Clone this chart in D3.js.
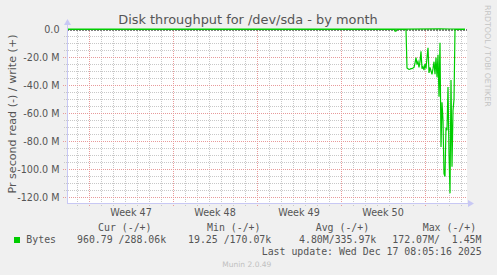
<!DOCTYPE html>
<html>
<head>
<meta charset="utf-8">
<script src="https://cdn.jsdelivr.net/npm/d3@7"></script>
<style>
  html, body { margin: 0; padding: 0; background: #f0f0f0; }
  svg { display: block; }
</style>
</head>
<body>
<svg id="chart" width="497" height="275"></svg>
<script>
// ---- data (hours relative to Mon Dec 15 2025 00:00 UTC, values in MB/s) ----
const readHours = [-716, -62, -60, -58, -56, -38,
  -36, -34, -32, -30, -28, -26, -24, -22, -20, -18, -16, -14, -12, -10, -8, -6, -4, -2,
  0, 2, 4, 6, 8, 10, 12, 14, 16, 18, 20, 22, 24, 26, 28, 30, 32, 34, 36, 38, 40, 42,
  44, 46, 48, 50, 52, 54, 56, 58, 60, 80];
const readValues = [-0.01, -0.01, -1.2, -1.2, -0.01, -0.01,
  -27.5, -28, -28.5, -28.3, -28, -28, -27.5, -27, -24, -20, -25, -23, -27, -23, -15.5, -28, -26.5, -29,
  -24.5, -28, -20, -13, -31, -27, -29.5, -32, -28, -23, -32, -20, -34, -18, -48, -9.5, -84, -52, -65, -103, -105, -70,
  -72, -41, -88, -117, -36, -98, -58, -50, -0.01, -0.01];
const writeHours = [-716, -300, -36, 30, 50, 80];
const writeValues = [0.29, 0.3, 0.33, 0.4, 0.35, 0.29];

const yTicks = [0, -20, -40, -60, -80, -100, -120];
const yTickLabels = ["0.0", "-20.0 M", "-40.0 M", "-60.0 M", "-80.0 M", "-100.0 M", "-120.0 M"];
const weekLabels = ["Week 47", "Week 48", "Week 49", "Week 50"];

const legendHeaders = ["Cur (-/+)", "Min (-/+)", "Avg (-/+)", "Max (-/+)"];
const legendValues = ["960.79 /288.06k", "19.25 /170.07k", "4.80M/335.97k", "172.07M/  1.45M"];

const title = "Disk throughput for /dev/sda - by month";
const yLabel = "Pr second read (-) / write (+)";
const seriesName = "Bytes";
const lastUpdate = "Last update: Wed Dec 17 08:05:16 2025";
const watermark = "RRDTOOL / TOBI OETIKER";
const version = "Munin 2.0.49";

// ---- layout ----
const svg = d3.select("#chart");
const base = Date.UTC(2025, 11, 15, 0, 0, 0);
const H = 3600 * 1000;
const pLeft = 67, pRight = 467, pTop = 29.5, pBottom = 203.5;

const x = d3.scaleUtc()
  .domain([new Date(base - 716 * H), new Date(base + 84 * H)])
  .range([pLeft, pRight]);
const y = d3.scaleLinear()
  .domain([-124.2857, 0])
  .range([pBottom, pTop]);

const green = "#00cc00";
const textCol = "#555";

// plot background
svg.append("rect").attr("x", pLeft).attr("y", 29).attr("width", pRight - pLeft).attr("height", pBottom - 29)
  .attr("fill", "#ffffff");

// minor grid
const g = svg.append("g");
const days = d3.utcDay.range(x.domain()[0], x.domain()[1]);
days.forEach(d => {
  const xx = Math.round(x(d)) + 0.5;
  if (xx <= pLeft || xx >= pRight) return;
  g.append("line").attr("x1", xx).attr("x2", xx).attr("y1", 29).attr("y2", 206)
    .attr("stroke", "#c8c8c8").attr("stroke-dasharray", "1,1");
});
d3.range(0, -125, -5).forEach(v => {
  const yy = Math.round(y(v) - 0.5) + 0.5;
  if (v % 20 === 0) return;
  g.append("line").attr("x1", 64).attr("x2", pRight).attr("y1", yy).attr("y2", yy)
    .attr("stroke", "#c8c8c8").attr("stroke-dasharray", "1,1");
});
// major grid
const mondays = d3.utcMonday.range(x.domain()[0], x.domain()[1]);
mondays.forEach(d => {
  const xx = Math.round(x(d)) + 0.5;
  g.append("line").attr("x1", xx).attr("x2", xx).attr("y1", 29).attr("y2", 207)
    .attr("stroke", "#e89a9a").attr("stroke-dasharray", "1,1");
});
yTicks.forEach(v => {
  if (v === 0) return;
  const yy = Math.round(y(v) - 0.5) + 0.5;
  g.append("line").attr("x1", 63).attr("x2", pRight).attr("y1", yy).attr("y2", yy)
    .attr("stroke", "#e89a9a").attr("stroke-dasharray", "1,1");
});

// y tick labels
yTicks.forEach((v, i) => {
  svg.append("text").attr("x", 59.5).attr("y", y(v) + 3.4)
    .attr("text-anchor", "end").attr("font-family", "DejaVu Sans").attr("font-size", "9.6px")
    .attr("fill", textCol).text(yTickLabels[i]);
});
// week labels
mondays.forEach((d, i) => {
  const mid = new Date(+d + 3.5 * 24 * H);
  if (i >= weekLabels.length) return;
  svg.append("text").attr("x", x(mid)).attr("y", 215.8)
    .attr("text-anchor", "middle").attr("font-family", "DejaVu Sans").attr("font-size", "9.6px")
    .attr("fill", textCol).text(weekLabels[i]);
});

// zero rule
svg.append("line").attr("x1", pLeft).attr("x2", pRight).attr("y1", 30).attr("y2", 30)
  .attr("stroke", "#000").attr("stroke-dasharray", "2,1");

// series
const line = d3.line().x(d => x(d[0])).y(d => y(d[1]));
const readData = readHours.map((h, i) => [new Date(base + h * H), readValues[i]]);
const writeData = writeHours.map((h, i) => [new Date(base + h * H), writeValues[i]]);
svg.append("path").datum(writeData).attr("d", line).attr("fill", "none")
  .attr("stroke", green).attr("stroke-width", 1.2);
svg.append("path").datum(readData).attr("d", line).attr("fill", "none")
  .attr("stroke", green).attr("stroke-width", 1.2);

// axes
svg.append("line").attr("x1", pLeft + 0.5).attr("x2", pLeft + 0.5).attr("y1", 204).attr("y2", 24)
  .attr("stroke", "#c8c8f4");
svg.append("path").attr("d", `M${pLeft - 3},${25} L${pLeft + 4},${25} L${pLeft + 0.5},${19} Z`).attr("fill", "#c8c8f4");
svg.append("line").attr("x1", pLeft).attr("x2", 470).attr("y1", 203.5).attr("y2", 203.5)
  .attr("stroke", "#c8c8f4");
svg.append("path").attr("d", `M${468},${200} L${468},${207} L${474},${203.5} Z`).attr("fill", "#c8c8f4");

// title
svg.append("text").attr("x", 248).attr("y", 23.5).attr("text-anchor", "middle")
  .attr("font-family", "DejaVu Sans").attr("font-size", "12.9px").attr("fill", textCol).text(title);
// y label
svg.append("text").attr("transform", "translate(16,114) rotate(-90)").attr("text-anchor", "middle")
  .attr("font-family", "DejaVu Sans").attr("font-size", "11.1px").attr("fill", textCol).text(yLabel);
// watermark
svg.append("text").attr("transform", "translate(485,5) rotate(90)").attr("text-anchor", "start")
  .attr("font-family", "DejaVu Sans").attr("font-size", "7.9px").attr("fill", "#c4c4c4").text(watermark);

// legend
const mono = "DejaVu Sans Mono";
const headerX = [98, 207, 315.7, 422.7];
const valueX = [77, 188, 299, 392.3];
legendHeaders.forEach((t, i) => {
  svg.append("text").attr("x", headerX[i]).attr("y", 230.8).attr("font-family", mono)
    .attr("font-size", "9.9px").attr("fill", textCol)
    .style("white-space", "pre").text(t);
});
svg.append("rect").attr("x", 14).attr("y", 237).attr("width", 6).attr("height", 6).attr("fill", green);
svg.append("text").attr("x", 26.3).attr("y", 242.8).attr("font-family", mono)
  .attr("font-size", "9.9px").attr("fill", textCol).text(seriesName);
legendValues.forEach((t, i) => {
  svg.append("text").attr("x", valueX[i]).attr("y", 242.8).attr("font-family", mono)
    .attr("font-size", "9.9px").attr("fill", textCol).style("white-space", "pre").text(t);
});
svg.append("text").attr("x", 261.7).attr("y", 255.2).attr("font-family", mono)
  .attr("font-size", "9.9px").attr("fill", textCol).style("white-space", "pre").text(lastUpdate);
svg.append("text").attr("x", 222.3).attr("y", 267).attr("font-family", "DejaVu Sans")
  .attr("font-size", "7.5px").attr("fill", "#c0c0c0").text(version);
</script>
</body>
</html>
